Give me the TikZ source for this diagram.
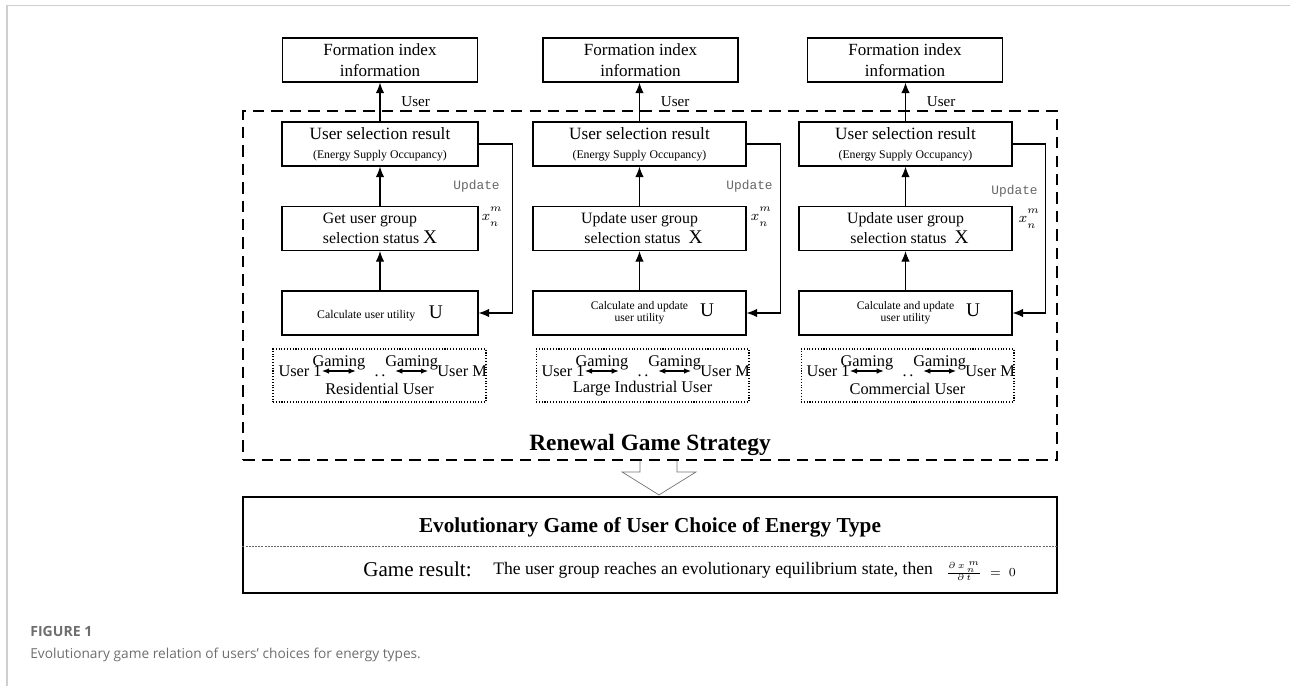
\documentclass[tikz,border=0pt]{standalone}
\usepackage{fontspec}
\setmainfont{Liberation Serif}
\newfontfamily\monofnt{Liberation Mono}
\newfontfamily\capfnt{Open Sans}
\usepackage{tikz}
\usetikzlibrary{arrows.meta,positioning}
\newcommand{\fsz}[2]{\fontsize{#1}{#2}\selectfont}
\newcommand{\xnm}{$x^{\raisebox{2pt}{$\scriptstyle m$}}_{\raisebox{-1.5pt}{$\scriptstyle n$}}$}
\definecolor{capgray}{HTML}{6E6E6E}
\definecolor{framegray}{HTML}{CFCFCF}
\tikzset{
  formbox/.style={draw, line width=0.75pt, minimum width=3.9cm, minimum height=0.88cm, align=center, inner sep=1pt, font=\fsz{9.7}{11.8}},
  stepbox/.style={draw, line width=0.75pt, minimum height=0.88cm, align=center, inner sep=1pt},
  grpbox/.style={draw, densely dotted, line width=0.6pt, minimum width=4.26cm, minimum height=1.06cm},
  uparr/.style={-{Latex[length=2.1mm,width=1.7mm]}, line width=0.6pt},
  garr/.style={{Latex[length=1.4mm,width=1.1mm]}-{Latex[length=1.4mm,width=1.1mm]}, line width=0.6pt},
  updlbl/.style={font=\monofnt\fsz{7.3}{8}, text=black!60, anchor=east, inner sep=0pt},
  nlbl/.style={font=\fsz{8}{9}, anchor=east, inner sep=0pt},
  glbl/.style={font=\fsz{9.3}{11}, inner sep=0pt},
}
\begin{document}
\begin{tikzpicture}[x=0.02cm,y=-0.02cm]
\useasboundingbox (0,0) rectangle (1290,686);
\draw[framegray, line width=0.9pt] (7,686) -- (7,5.5) -- (1290,5.5);
% renewal frame
\node[draw, dash pattern=on 6.5pt off 4pt, line width=1.1pt, minimum width=16.28cm, minimum height=6.98cm] (renew) at (650,285.5) {};
\node[font=\bfseries\fsz{13.3}{16}] (renewlbl) at (650,445) {Renewal Game Strategy};
% residential
\node[formbox] (form1) at (380,60) {Formation index\\information};
\node[stepbox, minimum width=3.92cm, font=\fsz{9.8}{12}] (sel1) at (380,144) {User selection result\\[-1pt]{\fsz{6.7}{8}(Energy Supply Occupancy)}};
\node[stepbox, minimum width=3.92cm, align=left, font=\fsz{9}{11.3}] (stat1) at (380,228.5) {Get user group\\selection status\ {\fsz{11}{12}X}};
\node[stepbox, minimum width=3.92cm] (calc1) at (380,313) {{\fsz{6.7}{8}Calculate user utility}\hspace{0.27cm}{\fsz{11}{12}U}};
\draw[uparr] (calc1) -- (stat1);
\draw[uparr] (stat1) -- (sel1);
\draw[uparr] (sel1.north) -- (sel1.north |- form1.south) node[midway, right=0.3cm, font=\fsz{8.6}{10}] (usr1) {User};
\draw[uparr] (sel1.east) -- ++(0.68cm,0) coordinate (fb1) |- (calc1.east);
\node[updlbl] (upd1) at (500,186) {Update};
\node[nlbl] (xnm1) at (503,217) {\xnm};
% large industrial
\node[formbox] (form2) at (640.5,60) {Formation index\\information};
\node[stepbox, minimum width=4.26cm, font=\fsz{9.8}{12}] (sel2) at (639.5,144) {User selection result\\[-1pt]{\fsz{6.7}{8}(Energy Supply Occupancy)}};
\node[stepbox, minimum width=4.26cm, font=\fsz{9}{11.3}] (stat2) at (639.5,228.5) {Update user group\\\ \ selection status\ \ {\fsz{11}{12}X}};
\node[stepbox, minimum width=4.26cm] (calc2) at (639.5,313) {{\fsz{6.6}{7.2}\begin{tabular}{@{}c@{}}Calculate and update\\user utility\end{tabular}}\makebox[0pt][l]{\hspace{0.24cm}\fsz{11}{12}U}};
\draw[uparr] (calc2) -- (stat2);
\draw[uparr] (stat2) -- (sel2);
\draw[uparr] (sel2.north) -- (sel2.north |- form2.south) node[midway, right=0.3cm, font=\fsz{8.6}{10}] (usr2) {User};
\draw[uparr] (sel2.east) -- ++(0.68cm,0) coordinate (fb2) |- (calc2.east);
\node[updlbl] (upd2) at (773,186) {Update};
\node[nlbl] (xnm2) at (772,217) {\xnm};
% commercial
\node[formbox] (form3) at (905,60) {Formation index\\information};
\node[stepbox, minimum width=4.26cm, font=\fsz{9.8}{12}] (sel3) at (905.5,144) {User selection result\\[-1pt]{\fsz{6.7}{8}(Energy Supply Occupancy)}};
\node[stepbox, minimum width=4.26cm, font=\fsz{9}{11.3}] (stat3) at (905.5,228.5) {Update user group\\\ \ selection status\ \ {\fsz{11}{12}X}};
\node[stepbox, minimum width=4.26cm] (calc3) at (905.5,313) {{\fsz{6.6}{7.2}\begin{tabular}{@{}c@{}}Calculate and update\\user utility\end{tabular}}\makebox[0pt][l]{\hspace{0.24cm}\fsz{11}{12}U}};
\draw[uparr] (calc3) -- (stat3);
\draw[uparr] (stat3) -- (sel3);
\draw[uparr] (sel3.north) -- (sel3.north |- form3.south) node[midway, right=0.3cm, font=\fsz{8.6}{10}] (usr3) {User};
\draw[uparr] (sel3.east) -- ++(0.66cm,0) coordinate (fb3) |- (calc3.east);
\node[updlbl] (upd3) at (1038,191) {Update};
\node[nlbl] (xnm3) at (1040,219) {\xnm};
% user groups
\node[grpbox] (grp1) at (379.5,375.5) {};
\node[glbl, anchor=east] (ua1) at (322,371) {User 1};
\node[glbl] (dt1) at (380,371) {\vphantom{U}.\,.};
\node[glbl, anchor=west] (ub1) at (437,371) {User M};
\draw[garr] (ua1.east) -- ([xshift=-0.37cm]dt1.west) node[midway, above=0.5pt, glbl] {Gaming};
\draw[garr] ([xshift=0.19cm]dt1.east) -- ([xshift=-0.18cm]ub1.west) node[midway, above=0.5pt, glbl] {Gaming};
\node[glbl] (cat1) at (379.5,389) {Residential User};
\node[grpbox] (grp2) at (642.5,375.5) {};
\node[glbl, anchor=east] (ua2) at (585,371) {User 1};
\node[glbl] (dt2) at (643,371) {\vphantom{U}.\,.};
\node[glbl, anchor=west] (ub2) at (700,371) {User M};
\draw[garr] (ua2.east) -- ([xshift=-0.37cm]dt2.west) node[midway, above=0.5pt, glbl] {Gaming};
\draw[garr] ([xshift=0.19cm]dt2.east) -- ([xshift=-0.18cm]ub2.west) node[midway, above=0.5pt, glbl] {Gaming};
\node[glbl] (cat2) at (642.5,389) {Large Industrial User};
\node[grpbox] (grp3) at (907.5,375.5) {};
\node[glbl, anchor=east] (ua3) at (850,371) {User 1};
\node[glbl] (dt3) at (908,371) {\vphantom{U}.\,.};
\node[glbl, anchor=west] (ub3) at (965,371) {User M};
\draw[garr] (ua3.east) -- ([xshift=-0.37cm]dt3.west) node[midway, above=0.5pt, glbl] {Gaming};
\draw[garr] ([xshift=0.19cm]dt3.east) -- ([xshift=-0.18cm]ub3.west) node[midway, above=0.5pt, glbl] {Gaming};
\node[glbl] (cat3) at (907.5,389) {Commercial User};
% evolutionary game
\node[draw, line width=0.8pt, minimum width=16.28cm, minimum height=1.92cm] (evo) at (650,545) {};
\draw[black!55, line width=0.4pt] ([xshift=-0.38cm]renew.south -| 659,0) -- ++(0,-0.22cm) -- ++(-0.36cm,0) -- ++(0.74cm,-0.46cm) -- ++(0.74cm,0.46cm) -- ++(-0.38cm,0) -- ++(0,0.22cm);
\node[font=\bfseries\fsz{12.1}{14}] (evolbl) at (650,527) {Evolutionary Game of User Choice of Energy Type};
\draw[black!60, line width=0.4pt, dash pattern=on 1.2pt off 0.6pt] (evo.west |- 0,546) -- (evo.east |- 0,546);
\node[anchor=west, inner sep=0pt, font=\fsz{12}{14}] (gres) at (363,569) {Game result:};
\node[anchor=west, inner sep=0pt, font=\fsz{10}{12}] (gtxt) at (493,570) {The user group reaches an evolutionary equilibrium state, then};
\node[anchor=west, inner sep=0pt, font=\fsz{7.5}{8}] (gfrac) at (946,571) {$\frac{\partial\,x_{\,n}^{\;m}}{\partial\,t}\;=\;0$};
% caption
\node[anchor=west, inner sep=0pt, text=capgray, font=\capfnt\bfseries\fsz{8}{10}] (figno) at (30,631) {FIGURE 1};
\node[anchor=west, inner sep=0pt, text=capgray, font=\capfnt\fsz{7.8}{10}] (figcap) at (30,655) {Evolutionary game relation of users’ choices for energy types.};
\end{tikzpicture}
\end{document}
